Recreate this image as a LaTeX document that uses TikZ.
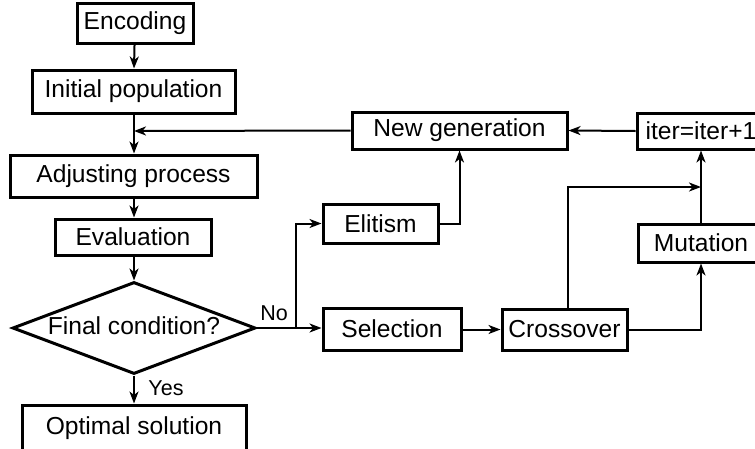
\documentclass[tikz,border=0pt]{standalone}
\usepackage{fontspec}
\setmainfont{Liberation Sans}
\usetikzlibrary{shapes.geometric,arrows.meta}
\begin{document}
\begin{tikzpicture}[x=1pt,y=-1pt,
  box/.style={draw,line width=3pt,inner sep=0pt,font=\fontsize{24.6}{29}\selectfont},
  conn/.style={line width=2pt,-{Stealth[length=12pt,width=9pt,inset=3.5pt]}},
  plain/.style={line width=2pt},
  lab/.style={font=\fontsize{21.5}{25}\selectfont,inner sep=0pt}]
\useasboundingbox (0,0) rectangle (755,448);
\node[box,minimum width=116pt,minimum height=40pt] (enc) at (135,23) {Encoding};
\node[box,minimum width=203pt,minimum height=43pt] (init) at (133.5,91.5) {Initial population};
\node[box,minimum width=247pt,minimum height=42pt] (adj) at (133.5,176) {Adjusting process};
\node[box,minimum width=156pt,minimum height=36pt] (eval) at (133,237) {Evaluation};
\node[box,diamond,aspect=2.64,minimum width=243pt,minimum height=92pt] (cond) at (134,328) {\raisebox{4pt}{Final condition?}};
\node[box,minimum width=224pt,minimum height=46pt] (opt) at (134,428) {\raisebox{3pt}{Optimal solution}};
\node[box,minimum width=115pt,minimum height=39pt] (elit) at (380.5,223.5) {Elitism};
\node[box,minimum width=215pt,minimum height=37pt] (newg) at (459.5,130.5) {New generation};
\node[box,minimum width=128pt,minimum height=36pt] (iter) at (701,131) {iter=iter+1};
\node[box,minimum width=126pt,minimum height=38pt] (mut) at (701,243) {Mutation};
\node[box,minimum width=138pt,minimum height=42pt] (sel) at (392,329) {Selection};
\node[box,minimum width=125pt,minimum height=41pt] (cross) at (564.5,329.5) {Crossover};
\node[lab] (no) at (274,313) {No};
\node[lab] (yes) at (166,388) {Yes};
\coordinate (merge) at (134,131);
\coordinate (nosplit) at (296,328);
\coordinate (cup) at (568,187);
\draw[conn] (enc) -- (init);
\draw[conn] (init.south -| merge) -- (adj.north -| merge);
\draw[conn] (newg.west) -- (merge);
\draw[conn] (adj.south -| merge) -- (eval.north -| merge);
\draw[conn] (eval.south -| cond.north) -- (cond.north);
\draw[conn] (cond.south) -- (opt.north -| cond.south);
\draw[plain] (cond.east) -- (nosplit);
\draw[conn] (nosplit) -- (sel.west |- nosplit);
\draw[conn] (nosplit) |- (elit.west);
\draw[conn] (elit.east) -| (newg.south);
\draw[conn] (iter.west) -- (newg.east);
\draw[conn] (sel.east |- cross.west) -- (cross.west);
\draw[conn] (cross.north -| cup) |- (iter.south |- cup);
\draw[conn] (cross.east) -| (mut.south);
\draw[conn] (mut.north) -- (iter.south);
\end{tikzpicture}
\end{document}
